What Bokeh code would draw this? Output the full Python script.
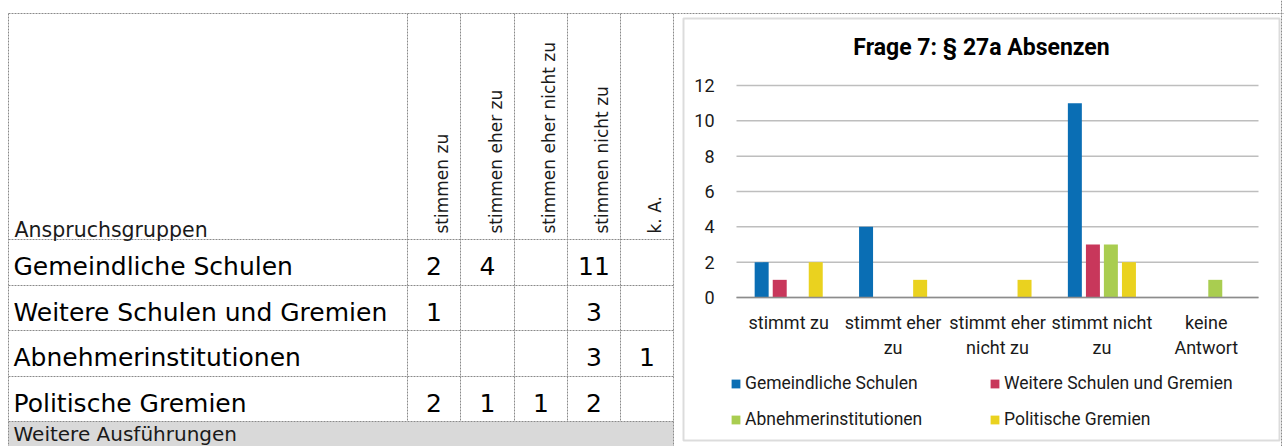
import math
from bokeh.plotting import figure
from bokeh.layouts import row
from bokeh.models import (Range1d, PolyAnnotation, Label, ColumnDataSource, FixedTicker, Span)
from bokeh.transform import dodge
from bokeh.core.properties import value
from bokeh.embed import file_html
from bokeh.resources import INLINE

# ---------------- data ----------------
categories = ["stimmt zu", "stimmt eher\nzu", "stimmt eher\nnicht zu", "stimmt nicht\nzu", "keine\nAntwort"]
groups = ["Gemeindliche Schulen", "Weitere Schulen und Gremien", "Abnehmerinstitutionen", "Politische Gremien"]
gemeindliche = [2, 4, 0, 11, 0]
weitere = [1, 0, 0, 3, 0]
abnehmer = [0, 0, 0, 3, 1]
politische = [2, 1, 1, 2, 0]
table_headers = ["stimmen zu", "stimmen eher zu", "stimmen eher nicht zu", "stimmen nicht zu", "k. A."]
table_group_header = "Anspruchsgruppen"
table_footer = "Weitere Ausführungen"
y_ticks = [0, 2, 4, 6, 8, 10, 12]
title_text = "Frage 7: § 27a Absenzen"
colors = ["#0A6EB4", "#C8375B", "#A9CD50", "#EAD21F"]

# ---------------- layout constants (page pixels) ----------------
H = 446
W1 = 680          # page x 0 .. 680
W2 = 604          # page x 680 .. 1284
TABLE_LEFT, TABLE_RIGHT, TABLE_TOP = 8, 673, 13
col_edges = [407, 460, 514, 567, 620, 673]
row_edges = [239, 285, 330, 376, 421]
DASH_COLOR = "#8A8A8A"
TABLE_FONT = "DejaVu Sans"
CHART_FONT = "Roboto"
TEXT_COLOR = "#1A1A1A"
BASE_SHIFT = 8.5   # correction between requested and drawn text baseline


def Y(v):
    return H - v


def YT(v):
    return H - (v - BASE_SHIFT)


# ---------------- table figure ----------------
p1 = figure(frame_width=W1, frame_height=H, x_range=Range1d(0, W1), y_range=Range1d(0, H),
            x_axis_type=None, y_axis_type=None, output_backend="svg",
            toolbar_location=None, min_border=0, outline_line_color=None)
p1.xgrid.visible = False
p1.ygrid.visible = False

# grey footer row
p1.quad(left=[TABLE_LEFT], right=[TABLE_RIGHT], bottom=[0], top=[Y(row_edges[-1])],
        fill_color="#D9D9D9", line_color=None)

# dashed grid lines
dash = dict(line_color=DASH_COLOR, line_width=1, line_dash="2 1")
p1.segment(x0=[TABLE_LEFT], y0=[Y(TABLE_TOP)], x1=[W1], y1=[Y(TABLE_TOP)], **dash)
p1.segment(x0=[TABLE_LEFT] * len(row_edges), y0=[Y(r) for r in row_edges],
           x1=[TABLE_RIGHT] * len(row_edges), y1=[Y(r) for r in row_edges], **dash)
p1.segment(x0=[TABLE_LEFT, TABLE_RIGHT], y0=[Y(TABLE_TOP)] * 2, x1=[TABLE_LEFT, TABLE_RIGHT],
           y1=[0, 0], **dash)
p1.segment(x0=col_edges[:-1], y0=[Y(TABLE_TOP)] * 5, x1=col_edges[:-1],
           y1=[Y(row_edges[-1])] * 5, **dash)

# header texts
p1.text(x=[14], y=[YT(238)], text=[table_group_header], text_font=value(TABLE_FONT),
        text_font_size="20.5px", text_color=TEXT_COLOR, text_baseline="alphabetic")
col_rights = col_edges[1:]
p1.text(x=[c - 19 for c in col_rights], y=[Y(233)] * len(table_headers), text=table_headers,
        angle=math.pi / 2, text_font=value(TABLE_FONT), text_font_size="17px",
        text_color=TEXT_COLOR, text_align="left", text_baseline="alphabetic")

# rows
series = [gemeindliche, weitere, abnehmer, politische]
row_tops = row_edges[:-1]
p1.text(x=[13] * len(groups), y=[YT(t + 35) for t in row_tops], text=groups,
        text_font=value(TABLE_FONT), text_font_size="25px", text_color="#000000",
        text_baseline="alphabetic")
nx, ny, nt = [], [], []
for r, vals in enumerate(series):
    for c, v in enumerate(vals):
        if v:
            nx.append((col_edges[c] + col_edges[c + 1]) / 2)
            ny.append(YT(row_tops[r] + 35))
            nt.append(str(v))
p1.text(x=nx, y=ny, text=nt, text_font=value(TABLE_FONT), text_font_size="25px",
        text_color="#000000", text_align="center", text_baseline="alphabetic")
p1.text(x=[13], y=[YT(442)], text=[table_footer], text_font=value(TABLE_FONT),
        text_font_size="20px", text_color=TEXT_COLOR, text_baseline="alphabetic")

# ---------------- chart figure ----------------
P2_LEFT = W1
PLOT_LEFT, PLOT_RIGHT, PLOT_TOP, PLOT_BOTTOM = 736, 1258, 85, 297
n = len(categories)
band = (PLOT_RIGHT - PLOT_LEFT) / n
unit = (PLOT_BOTTOM - PLOT_TOP) / y_ticks[-1]
x_start = -0.5 - (PLOT_LEFT - P2_LEFT) / band
x_end = n - 0.5 + (P2_LEFT + W2 - PLOT_RIGHT) / band
y_start = -(H - PLOT_BOTTOM) / unit
y_end = y_ticks[-1] + PLOT_TOP / unit

p2 = figure(frame_width=W2, frame_height=H, x_range=Range1d(x_start, x_end),
            y_range=Range1d(y_start, y_end), output_backend="svg", toolbar_location=None,
            min_border=0, outline_line_color=None)
p2.xgrid.visible = False
p2.ygrid.visible = False


def sx(v):
    return v - P2_LEFT


def sy(v):
    return H - v


xpos = list(range(n))
# horizontal grid lines across the category bands
p2.segment(x0=[-0.5] * len(y_ticks), x1=[n - 0.5] * len(y_ticks), y0=y_ticks, y1=y_ticks,
           line_color="#BEBEBE", line_width=1.5)

src = ColumnDataSource(dict(x=xpos, g0=gemeindliche, g1=weitere, g2=abnehmer, g3=politische))
offsets = [-0.259, -0.086, 0.086, 0.259]
for i, name in enumerate(groups):
    p2.vbar(x=dodge("x", offsets[i]), top="g%d" % i, width=0.134, source=src,
            fill_color=colors[i], line_color=None, legend_label=name)

p2.yaxis.fixed_location = -0.5
p2.yaxis.ticker = FixedTicker(ticks=y_ticks)
p2.yaxis.axis_line_color = None
p2.yaxis.major_tick_line_color = None
p2.yaxis.minor_tick_line_color = None
p2.yaxis.major_tick_out = 0
p2.yaxis.major_tick_in = 0
p2.yaxis.major_label_standoff = 22
p2.yaxis.major_label_text_font = CHART_FONT
p2.yaxis.major_label_text_font_size = "18px"
p2.yaxis.major_label_text_color = TEXT_COLOR

p2.xaxis.fixed_location = 0
p2.xaxis.bounds = (-0.5, n - 0.5)
p2.xaxis.ticker = FixedTicker(ticks=xpos)
p2.xaxis.major_label_overrides = {i: c for i, c in enumerate(categories)}
p2.xaxis.axis_line_color = "#8C8C8C"
p2.xaxis.axis_line_width = 1.5
p2.xaxis.major_tick_line_color = None
p2.xaxis.minor_tick_line_color = None
p2.xaxis.major_tick_out = 0
p2.xaxis.major_tick_in = 0
p2.xaxis.major_label_standoff = 14
p2.xaxis.major_label_text_font = CHART_FONT
p2.xaxis.major_label_text_font_size = "18px"
p2.xaxis.major_label_text_color = TEXT_COLOR

p2.add_layout(Label(x=sx(981), y=sy(47), x_units="screen", y_units="screen", text=title_text,
                    text_align="center", text_baseline="middle", text_font=CHART_FONT,
                    text_font_style="bold", text_font_size="23px", text_color="#000000"))

# chart box (solid grey)
bx = [683, 1279, 1279, 683]
by = [18, 18, 440, 440]
p2.add_layout(PolyAnnotation(xs=[sx(v) for v in bx], ys=[sy(v) for v in by], xs_units="screen",
                             ys_units="screen", fill_alpha=0, line_color="#8C8C8C", line_width=2))
# dashed outer cell border
p2.add_layout(Span(location=sy(13), location_units="screen", dimension="width", **dash))
p2.add_layout(Span(location=sx(1281), location_units="screen", dimension="height", **dash))

leg = p2.legend[0]
leg.location = (sx(730), sy(429))
leg.orientation = "horizontal"
leg.ncols = 2
leg.spacing = 16
leg.label_width = 228
leg.glyph_width = 11
leg.glyph_height = 11
leg.label_height = 20
leg.label_standoff = 4
leg.padding = 0
leg.margin = 0
leg.border_line_color = None
leg.background_fill_alpha = 0
leg.label_text_font = CHART_FONT
leg.label_text_font_size = "17.5px"
leg.label_text_color = TEXT_COLOR

layout = row(p1, p2)
open("out.html", "w").write(file_html(layout, INLINE))
